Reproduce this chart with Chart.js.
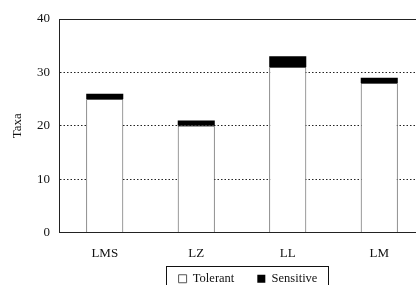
<!DOCTYPE html>
<html>
<head>
<meta charset="utf-8">
<script src="https://cdn.jsdelivr.net/npm/chart.js@4/dist/chart.umd.min.js"></script>
<style>
  html, body { margin: 0; padding: 0; background: #fff; overflow: hidden; }
  #wrap { width: 426px; height: 308px; }
</style>
</head>
<body>
<div id="wrap"><canvas id="chart" width="426" height="308"></canvas></div>
<script>
    // Data
    var sites = ['LMS', 'LZ', 'LL', 'LM'];
    var tolerant = [25, 20, 31, 28];
    var sensitive = [1, 1, 2, 1];
    var yTicks = [0, 10, 20, 30, 40];

    Chart.defaults.font.family = 'Liberation Serif';
    Chart.defaults.font.size = 13;
    Chart.defaults.color = '#111';

    // Frame drawn around the legend, like the boxed key in the figure
    var legendFrame = {
        id: 'legendFrame',
        afterLayout: function (chart) {
            // pull the key up under the axis labels and a bit to the right
            var lg = chart.legend;
            lg.left += 6;
            lg.right += 6;
            lg.top -= 13;
            lg.bottom -= 13;
        },
        afterDraw: function (chart) {
            var boxes = chart.legend.legendHitBoxes;
            if (!boxes || !boxes.length) return;
            var first = boxes[0];
            var last = boxes[boxes.length - 1];
            var ctx = chart.ctx;
            ctx.save();
            ctx.strokeStyle = '#111';
            ctx.lineWidth = 1;
            var x0 = Math.round(first.left - 13) + 0.5;
            var x1 = Math.round(last.left + last.width + 11) + 0.5;
            var y0 = Math.round(first.top - 7) + 0.5;
            ctx.strokeRect(x0, y0, x1 - x0, 60);
            ctx.restore();
        }
    };

    new Chart(document.getElementById('chart'), {
        type: 'bar',
        data: {
            labels: sites,
            datasets: [{
                label: 'Tolerant',
                data: tolerant,
                backgroundColor: '#ffffff',
                borderColor: '#555',
                borderWidth: 1,
                barPercentage: 0.405,
                categoryPercentage: 1
            }, {
                label: 'Sensitive',
                data: sensitive,
                backgroundColor: '#000000',
                borderColor: '#000000',
                borderWidth: 0,
                barPercentage: 0.405,
                categoryPercentage: 1
            }]
        },
        options: {
            responsive: false,
            animation: false,
            layout: { padding: { top: 19, right: 1, left: 0, bottom: 0 } },
            plugins: {
                tooltip: { enabled: false },
                legend: {
                    position: 'bottom',
                    fullSize: false,
                    labels: {
                        boxWidth: 8,
                        boxHeight: 8,
                        padding: 23,
                        color: '#111',
                        font: { size: 12.5 }
                    }
                }
            },
            scales: {
                x: {
                    stacked: true,
                    grid: { display: false, drawTicks: false },
                    border: { display: true, color: '#222', width: 1 },
                    ticks: { padding: 13, color: '#111' },
                    afterFit: function (scale) { scale.height = 30; }
                },
                y: {
                    stacked: true,
                    min: 0,
                    max: 40,
                    afterBuildTicks: function (scale) {
                        scale.ticks = yTicks.map(function (v) { return { value: v }; });
                    },
                    grid: {
                        drawTicks: false,
                        lineWidth: 1,
                        color: function (ctx) {
                            return ctx.tick && ctx.tick.value === 0 ? 'rgba(0,0,0,0)' : '#222';
                        }
                    },
                    border: {
                        display: true,
                        color: '#222',
                        width: 1,
                        dash: function (ctx) {
                            return ctx.tick && ctx.tick.value === 40 ? [] : [1.5, 2];
                        }
                    },
                    ticks: { padding: 9, color: '#111' },
                    title: {
                        display: true,
                        text: 'Taxa',
                        color: '#111',
                        padding: { top: 10, bottom: 0 },
                        font: { size: 13 }
                    },
                    afterFit: function (scale) { scale.width = 59; }
                }
            }
        },
        plugins: [legendFrame]
    });
</script>
</body>
</html>
